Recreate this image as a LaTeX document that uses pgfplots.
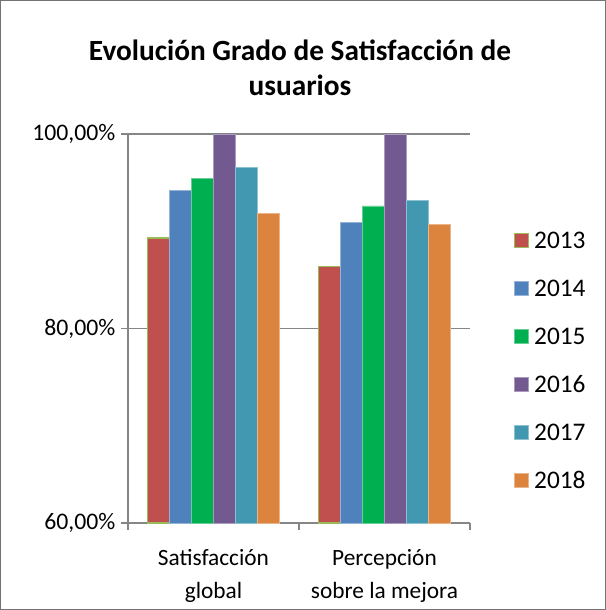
\documentclass[border=0pt]{standalone}
\usepackage{fontspec}
\setmainfont{Carlito}
\usepackage{pgfplots}
\pgfplotsset{compat=1.18}

\definecolor{c13}{RGB}{192,80,77}
\definecolor{c14}{RGB}{79,129,189}
\definecolor{c15}{RGB}{0,176,80}
\definecolor{c16}{RGB}{114,89,144}
\definecolor{c17}{RGB}{66,152,176}
\definecolor{c18}{RGB}{220,132,62}
\definecolor{edge13}{RGB}{155,187,89}
\definecolor{axgray}{RGB}{134,134,134}

\begin{document}
\begin{tikzpicture}
\useasboundingbox (-96pt,-65.25pt) rectangle (358.5pt,392.25pt);
\draw[line width=0.8pt, color=black!55] (-95.5pt,-64.75pt) rectangle (358pt,391.75pt);
\begin{axis}[
  at={(0pt,0pt)}, anchor=south west,
  scale only axis,
  width=256.5pt, height=291.75pt,
  ybar=0pt, bar width=16.5pt,
  xmin=-0.5, xmax=1.5,
  ymin=60, ymax=100,
  axis x line=bottom, axis y line=left,
  axis line style={draw=axgray, line width=0.8pt, -},
  ytick={60,80,100},
  yticklabels={{60,00\%},{80,00\%},{100,00\%}},
  ymajorgrids,
  grid style={draw=axgray, line width=0.8pt},
  xtick={-0.5,0.5,1.5},
  xticklabels={},
  extra x ticks={0,1},
  extra x tick labels={{Satisfacción\\global},{Percepción\\sobre la mejora}},
  extra x tick style={major tick length=0pt, grid=none,
    tick label style={align=center, font=\fontsize{17.5}{24.75}\selectfont, yshift=-16pt}},
  tick align=outside,
  major tick length=5pt,
  tick style={draw=axgray, line width=0.8pt},
  ticklabel style={font=\fontsize{17.8}{20}\selectfont, text=black},
  yticklabel style={xshift=-1pt},
  legend style={draw=none, at={(1.128,0.748)}, anchor=north west,
    font=\fontsize{19}{22}\selectfont, row sep=24pt, inner sep=0pt,
    nodes={inner sep=0pt, text height=12pt, text depth=0pt, anchor=west},
    /tikz/every odd column/.append style={column sep=4pt},
    legend cell align=left},
  legend image code/.code={\draw[#1, line width=0.6pt] (0pt,-5.25pt) rectangle (10.5pt,5.25pt);},
]
\addplot[fill=c13, draw=edge13, line width=1pt] coordinates {(0,89.3) (1,86.4)};
\addplot[fill=c14, draw=c14!60!white, line width=0.5pt] coordinates {(0,94.2) (1,90.9)};
\addplot[fill=c15, draw=c15!60!white, line width=0.5pt] coordinates {(0,95.4) (1,92.6)};
\addplot[fill=c16, draw=c16!60!white, line width=0.5pt] coordinates {(0,100) (1,100)};
\addplot[fill=c17, draw=c17!60!white, line width=0.5pt] coordinates {(0,96.6) (1,93.2)};
\addplot[fill=c18, draw=c18!60!white, line width=0.5pt] coordinates {(0,91.8) (1,90.7)};
\legend{2013,2014,2015,2016,2017,2018}
\end{axis}
\node[align=center, font=\fontsize{22}{26.25}\selectfont\bfseries] at (129pt,341.5pt)
  {Evolución Grado de Satisfacción de\\usuarios};
\end{tikzpicture}
\end{document}
